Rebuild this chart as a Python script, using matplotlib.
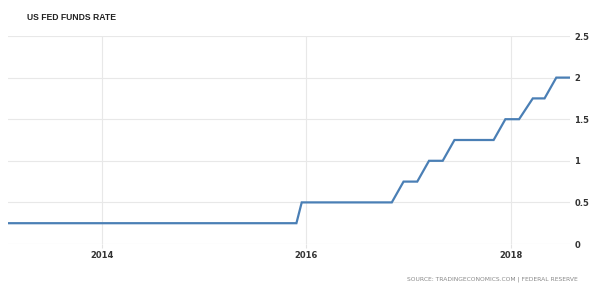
import matplotlib
matplotlib.use("Agg")
import matplotlib.pyplot as plt
import pandas as pd

# FOMC meeting dates and fed funds rate (upper bound)
dates = ["2013-01-30", "2013-03-20", "2013-05-01", "2013-06-19", "2013-07-31", "2013-09-18",
         "2013-10-30", "2013-12-18", "2014-01-29", "2014-03-19", "2014-04-30", "2014-06-18",
         "2014-07-30", "2014-09-17", "2014-10-29", "2014-12-17", "2015-01-28", "2015-03-18",
         "2015-04-29", "2015-06-17", "2015-07-29", "2015-09-17", "2015-10-28", "2015-11-27",
         "2015-12-16", "2016-01-27", "2016-03-16", "2016-04-27", "2016-06-15", "2016-07-27",
         "2016-09-21", "2016-11-02", "2016-12-14", "2017-02-01", "2017-03-15", "2017-05-03",
         "2017-06-14", "2017-07-26", "2017-09-20", "2017-11-01", "2017-12-13", "2018-01-31",
         "2018-03-21", "2018-05-02", "2018-06-13", "2018-08-01"]
rates = [0.25] * 24 + [0.5] * 8 + [0.75, 0.75, 1.0, 1.0, 1.25, 1.25, 1.25, 1.25,
                                    1.5, 1.5, 1.75, 1.75, 2.0, 2.0]
yticks = [0, 0.5, 1, 1.5, 2, 2.5]
ytick_labels = ["0", "0.5", "1", "1.5", "2", "2.5"]
xtick_years = [2014, 2016, 2018]

title = "US FED FUNDS RATE"
source = "SOURCE: TRADINGECONOMICS.COM | FEDERAL RESERVE"

x = pd.to_datetime(dates)

fig = plt.figure(figsize=(6.0, 2.92), dpi=100)
ax = fig.add_axes([8 / 600, 1 - 244 / 292, (570 - 8) / 600, (244 - 36) / 292])

ax.plot(x, rates, color="#4a7fb5", lw=1.6, solid_joinstyle="miter")

ax.set_xlim(x[0], x[-1])
ax.set_ylim(0, 2.5)

ax.set_yticks(yticks)
ax.set_yticklabels(ytick_labels)
ax.yaxis.tick_right()
xt = [pd.Timestamp(f"{y}-01-01") for y in xtick_years]
ax.set_xticks(xt)
ax.set_xticklabels([str(y) for y in xtick_years])

for lab in ax.get_xticklabels() + ax.get_yticklabels():
    lab.set_fontfamily("DejaVu Sans")
    lab.set_fontweight("bold")
    lab.set_fontsize(6.0)
    lab.set_color("#333333")

ax.tick_params(axis="x", length=3, color="#e3e3e3", pad=2)
ax.tick_params(axis="y", length=0, pad=3)
for lab in ax.get_yticklabels():
    lab.set_horizontalalignment("left")

ax.grid(True, color="#e8e8e8", lw=0.8)
ax.set_axisbelow(True)
for s in ax.spines.values():
    s.set_visible(False)

fig.text(27 / 600, 1 - 17 / 292, title, fontsize=6.2, fontweight="bold",
         color="#222222", family="Liberation Sans", va="center", ha="left")
fig.text(578 / 600, 1 - 279 / 292, source, fontsize=4.3, color="#888888",
         family="DejaVu Sans", va="center", ha="right")

fig.savefig("out.png", dpi=100, facecolor="white")
